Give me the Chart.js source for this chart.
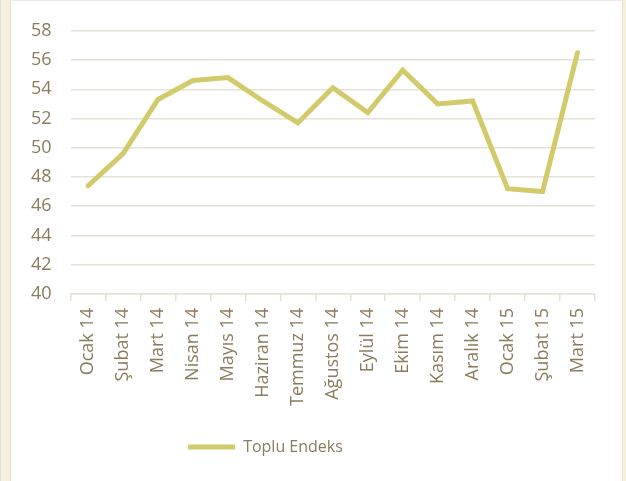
<!DOCTYPE html>
<html>
<head>
<meta charset="utf-8">
<script src="https://cdn.jsdelivr.net/npm/chart.js@4"></script>
<style>
  html, body { margin: 0; padding: 0; background: #fff; }
  body { width: 626px; height: 481px; position: relative; overflow: hidden; }
  .strip { position: absolute; left: 0; top: 0; width: 11px; height: 481px;
           background: #F6F1DD; border-left: 1px solid #E4E0D4; border-right: 1px solid #E4E0D4; box-sizing: border-box; }
  .rstrip { position: absolute; right: 0; top: 0; width: 4px; height: 481px;
            background: #F6F1DD; border-left: 1px solid #E4E0D4; box-sizing: border-box; }
  .top { position: absolute; left: 12px; top: 0; right: 4px; height: 1px; background: #EEEBE4; }
  .wrap { position: absolute; left: 12px; top: 1px; width: 610px; height: 480px; }
</style>
</head>
<body>
<div class="strip"></div>
<div class="rstrip"></div>
<div class="top"></div>
<div class="wrap"><canvas id="myChart" width="610" height="480"></canvas></div>
<script>
const months = ['Ocak 14', 'Şubat 14', 'Mart 14', 'Nisan 14', 'Mayıs 14', 'Haziran 14', 'Temmuz 14',
    'Ağustos 14', 'Eylül 14', 'Ekim 14', 'Kasım 14', 'Aralık 14', 'Ocak 15', 'Şubat 15', 'Mart 15'];
const topluEndeks = [47.4, 49.6, 53.3, 54.6, 54.8, 53.2, 51.7, 54.1, 52.4, 55.3, 53.0, 53.2, 47.2, 47.0, 56.5];

const textColor = '#8A7C5C';
const lineColor = '#D3CB6B';
const gridColor = '#E6E2D8';

// the legend sits a bit left of centre in the original
const legendShift = {
    id: 'legendShift',
    afterLayout(chart) {
        chart.legend.left -= 38;
        chart.legend.right -= 38;
    }
};

const ctx = document.getElementById('myChart');

new Chart(ctx, {
    type: 'line',
    data: {
        labels: months,
        datasets: [{
            label: 'Toplu Endeks',
            data: topluEndeks,
            borderColor: lineColor,
            backgroundColor: lineColor,
            borderWidth: 5,
            pointRadius: 0,
            tension: 0,
            borderCapStyle: 'round',
            borderJoinStyle: 'miter'
        }]
    },
    options: {
        responsive: false,
        animation: false,
        devicePixelRatio: 1,
        layout: {
            padding: { top: 0, right: 27, bottom: 16, left: 0 }
        },
        plugins: {
            tooltip: { enabled: false },
            legend: {
                position: 'bottom',
                labels: {
                    color: textColor,
                    font: { family: 'Open Sans', size: 16 },
                    usePointStyle: true,
                    pointStyle: 'line',
                    pointStyleWidth: 47,
                    padding: 26
                }
            }
        },
        scales: {
            x: {
                offset: true,
                grid: {
                    display: true,
                    drawOnChartArea: false,
                    offset: true,
                    color: gridColor,
                    lineWidth: 1.5,
                    tickLength: 7
                },
                border: { display: true, color: gridColor, width: 1.5 },
                ticks: {
                    color: textColor,
                    font: { family: 'Open Sans', size: 18 },
                    minRotation: 90,
                    maxRotation: 90,
                    padding: 7,
                    autoSkip: false
                }
            },
            y: {
                min: 40,
                max: 58,
                grid: {
                    color: gridColor,
                    lineWidth: 1.5,
                    drawTicks: false
                },
                border: { display: false },
                ticks: {
                    stepSize: 2,
                    color: textColor,
                    font: { family: 'Open Sans', size: 18 },
                    padding: 19
                }
            }
        }
    },
    plugins: [legendShift]
});
</script>
</body>
</html>
